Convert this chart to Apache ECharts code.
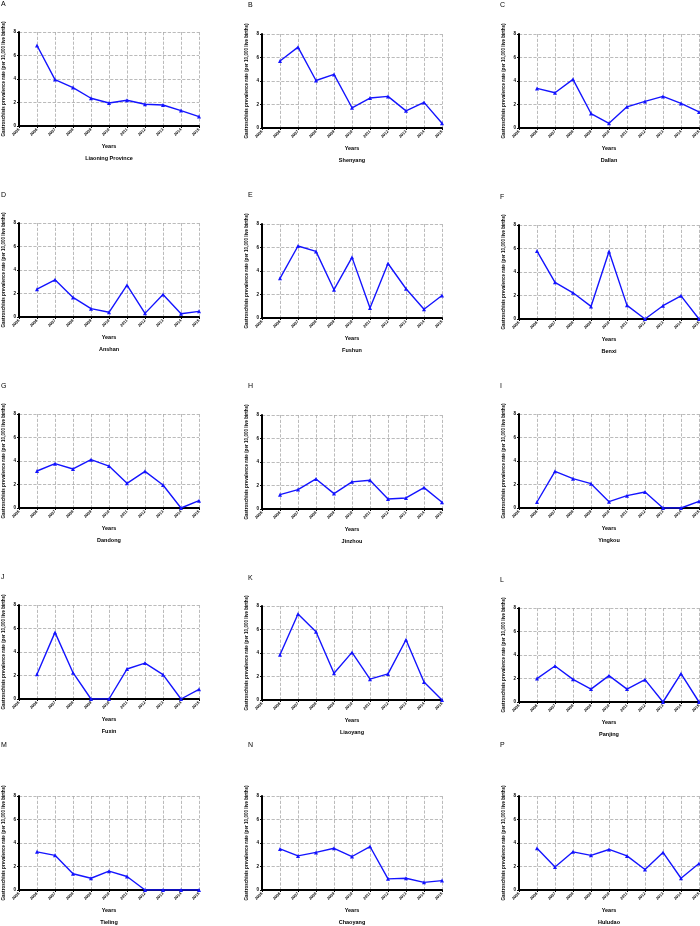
<!DOCTYPE html>
<html lang="en">
<head>
<meta charset="utf-8">
<title>Gastroschisis prevalence, Liaoning</title>
<script src="https://cdn.jsdelivr.net/npm/echarts@6/dist/echarts.min.js"></script>
</head>
<body style="margin:0;background:#fff">
<div id="main" style="width:700px;height:926px"></div>
<script>
var years = [2006, 2007, 2008, 2009, 2010, 2011, 2012, 2013, 2014, 2015];
var letters = ['A', 'B', 'C', 'D', 'E', 'F', 'G', 'H', 'I', 'J', 'K', 'L', 'M', 'N', 'P'];
var places = ['Liaoning Province', 'Shenyang', 'Dallan', 'Anshan', 'Fushun', 'Benxi',
    'Dandong', 'Jinzhou', 'Yingkou', 'Fuxin', 'Liaoyang', 'Panjing', 'Tieling', 'Chaoyang', 'Huludao'];

var liaoning = [6.85, 3.95, 3.27, 2.36, 1.96, 2.19, 1.85, 1.79, 1.31, 0.8];
var shenyang = [5.7, 6.88, 4.04, 4.56, 1.72, 2.55, 2.69, 1.46, 2.18, 0.4];
var dalian = [3.37, 3.0, 4.14, 1.23, 0.4, 1.8, 2.26, 2.69, 2.09, 1.37];
var anshan = [2.37, 3.16, 1.67, 0.71, 0.4, 2.71, 0.31, 1.92, 0.28, 0.48];
var fushun = [3.38, 6.13, 5.67, 2.41, 5.16, 0.86, 4.64, 2.49, 0.74, 1.92];
var benxi = [5.78, 3.12, 2.23, 1.07, 5.75, 1.16, 0, 1.13, 1.97, 0];
var dandong = [3.15, 3.77, 3.32, 4.11, 3.57, 2.1, 3.12, 1.96, 0, 0.62];
var jinzhou = [1.22, 1.65, 2.56, 1.31, 2.31, 2.45, 0.85, 0.94, 1.82, 0.57];
var yingkou = [0.51, 3.12, 2.5, 2.07, 0.54, 1.05, 1.36, 0, 0, 0.57];
var fuxin = [2.1, 5.67, 2.24, 0, 0, 2.55, 3.06, 2.07, 0, 0.82];
var liaoyang = [3.85, 7.32, 5.81, 2.28, 4.05, 1.77, 2.22, 5.13, 1.54, 0];
var panjing = [1.99, 3.06, 1.93, 1.1, 2.24, 1.1, 1.9, 0, 2.41, 0];
var tieling = [3.25, 2.95, 1.38, 1.0, 1.6, 1.15, 0, 0, 0, 0];
var chaoyang = [3.5, 2.9, 3.2, 3.55, 2.85, 3.7, 0.95, 1.0, 0.65, 0.8];
var huludao = [3.55, 1.95, 3.25, 2.95, 3.45, 2.9, 1.75, 3.2, 1.0, 2.25];

var allSeries = [liaoning, shenyang, dalian, anshan, fushun, benxi, dandong, jinzhou,
    yingkou, fuxin, liaoyang, panjing, tieling, chaoyang, huludao];

// layout of the 3 x 5 panels
var colLeft = [19, 262, 519];
var colLetter = [1, 248, 500];
var plotTop = [32, 34, 34, 223, 224, 225, 414, 415, 414, 605, 606, 608, 796, 796, 796];
var letterTop = [1, 2, 2, 192, 192, 194, 383, 383, 383, 574, 575, 577, 742, 742, 742];
var plotW = 180, plotH = 94;
var font = 'Liberation Sans, Arial, sans-serif';

var grids = [], xAxes = [], yAxes = [], series = [], titles = [];
allSeries.forEach(function (vals, i) {
    var col = i % 3;
    var left = colLeft[col], top = plotTop[i];
    grids.push({ left: left, top: top, width: plotW, height: plotH, outerBoundsMode: 'none' });
    xAxes.push({
        gridIndex: i, type: 'value', min: 2005, max: 2015, interval: 1,
        name: 'Years', nameLocation: 'middle', nameGap: 17,
        nameTextStyle: { fontSize: 5.5, fontWeight: 'bold', fontFamily: font, color: '#000' },
        axisLine: { lineStyle: { color: '#000', width: 2 } },
        axisTick: { length: 2, lineStyle: { color: '#000' } },
        axisLabel: { rotate: 45, fontSize: 4, fontWeight: 'bold', fontFamily: font, color: '#000', margin: 3,
            formatter: function (v) { return String(v); } },
        splitLine: { show: true, lineStyle: { color: '#aaa', type: 'dashed', width: 0.8 } }
    });
    yAxes.push({
        gridIndex: i, type: 'value', min: 0, max: 8, interval: 2,
        name: 'Gastroschisis prevalence rate (per 10,000 live births)',
        nameLocation: 'middle', nameGap: 13,
        nameTextStyle: { fontSize: 4.6, fontWeight: 'bold', fontFamily: font, color: '#000' },
        axisLine: { show: true, lineStyle: { color: '#000', width: 2 } },
        axisTick: { show: true, length: 2, lineStyle: { color: '#000' } },
        axisLabel: { fontSize: 4.5, fontWeight: 'bold', fontFamily: font, color: '#000', margin: 3 },
        splitLine: { show: true, lineStyle: { color: '#aaa', type: 'dashed', width: 0.8 } }
    });
    series.push({
        type: 'line', xAxisIndex: i, yAxisIndex: i,
        data: years.map(function (y, k) { return [y, vals[k]]; }),
        symbol: 'triangle', symbolSize: 4, showSymbol: true,
        lineStyle: { color: '#1414ff', width: 1.4 },
        itemStyle: { color: '#1414ff' },
        animation: false
    });
    titles.push({
        text: places[i], left: left + plotW / 2, top: top + plotH + 29, textAlign: 'center', padding: 0,
        textStyle: { fontSize: 5.5, fontWeight: 'bold', fontFamily: font, color: '#000' }
    });
    titles.push({
        text: letters[i], left: colLetter[col], top: letterTop[i], padding: 0,
        textStyle: { fontSize: 7, fontWeight: 'normal', fontFamily: font, color: '#000' }
    });
});

var myChart = echarts.init(document.getElementById('main'));
myChart.setOption({
    backgroundColor: '#fff',
    animation: false,
    title: titles,
    grid: grids,
    xAxis: xAxes,
    yAxis: yAxes,
    series: series
});
</script>
</body>
</html>
